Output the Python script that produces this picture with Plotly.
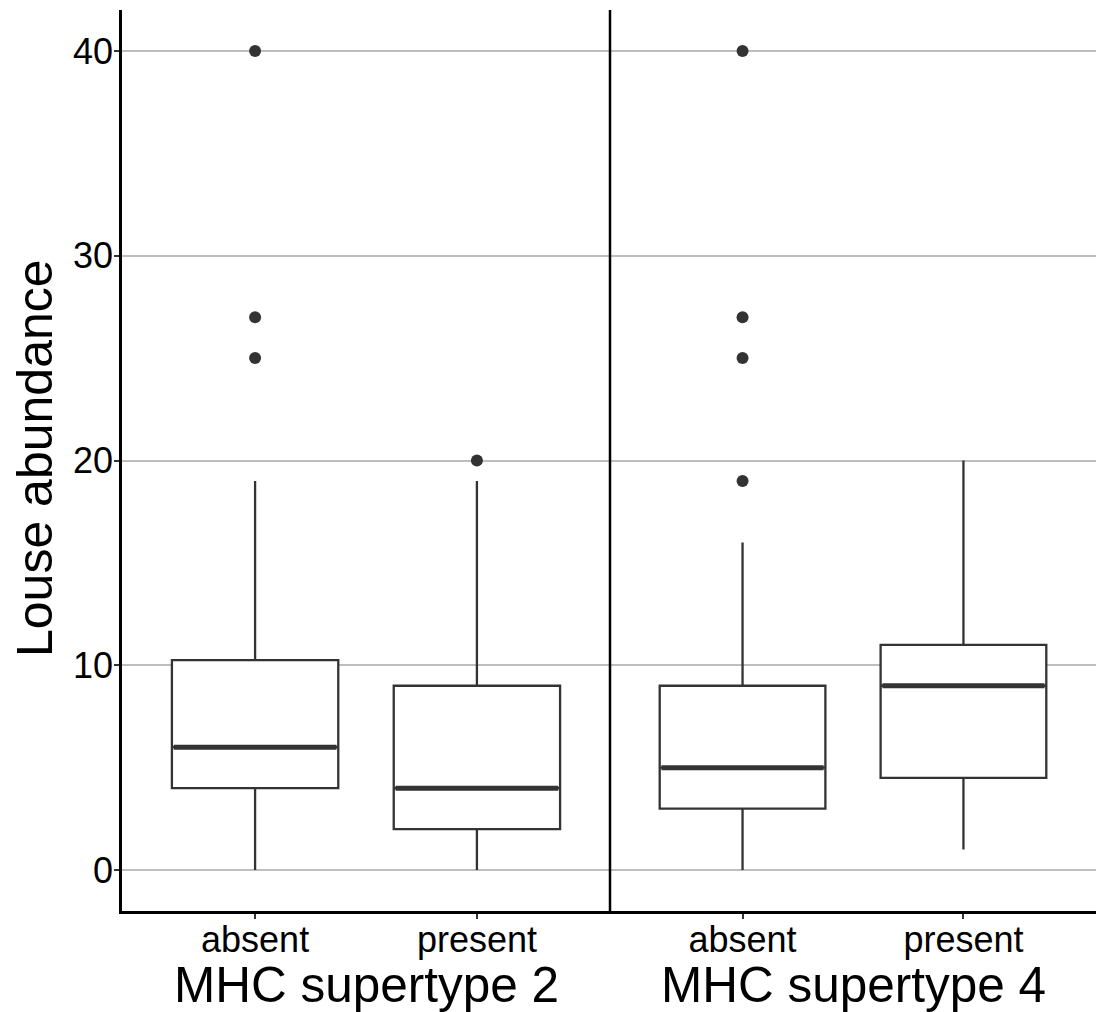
import plotly.graph_objects as go

# ---- data ----
categories = ["absent", "present"]
panels = ["MHC supertype 2", "MHC supertype 4"]
y_title = "Louse abundance"

# per panel: [absent, present]
lower_whisker = {"MHC supertype 2": [0, 0], "MHC supertype 4": [0, 1]}
q1_vals = {"MHC supertype 2": [4, 2], "MHC supertype 4": [3, 4.5]}
median_vals = {"MHC supertype 2": [6, 4], "MHC supertype 4": [5, 9]}
q3_vals = {"MHC supertype 2": [10.25, 9], "MHC supertype 4": [9, 11]}
upper_whisker = {"MHC supertype 2": [19, 19], "MHC supertype 4": [16, 20]}
outliers = {
    "MHC supertype 2": [[25, 27, 40], [20]],
    "MHC supertype 4": [[19, 25, 27, 40], []],
}
y_ticks = [0, 10, 20, 30, 40]

DARK = "#333333"
BOX_W = 0.75
FONT = "Liberation Sans, Arial, sans-serif"

fig = go.Figure()
axes = [("x", "y"), ("x2", "y")]
for (xa, ya), panel in zip(axes, panels):
    for i, cat in enumerate(categories):
        xpos = i + 1
        fig.add_trace(go.Box(
            x=[xpos], q1=[q1_vals[panel][i]], median=[median_vals[panel][i]],
            q3=[q3_vals[panel][i]], lowerfence=[lower_whisker[panel][i]],
            upperfence=[upper_whisker[panel][i]],
            width=BOX_W, whiskerwidth=0, boxpoints=False,
            fillcolor="white", line=dict(color=DARK, width=2.3),
            xaxis=xa, yaxis=ya, showlegend=False, hoverinfo="skip",
        ))
        # thick median line
        fig.add_trace(go.Scatter(
            x=[xpos - BOX_W / 2 + 0.008, xpos + BOX_W / 2 - 0.008],
            y=[median_vals[panel][i]] * 2,
            mode="lines", line=dict(color=DARK, width=5),
            xaxis=xa, yaxis=ya, showlegend=False, hoverinfo="skip",
        ))
        if outliers[panel][i]:
            fig.add_trace(go.Scatter(
                x=[xpos] * len(outliers[panel][i]), y=outliers[panel][i],
                mode="markers", marker=dict(color=DARK, size=12),
                xaxis=xa, yaxis=ya, showlegend=False, hoverinfo="skip",
            ))

W, H = 1096, 1012
L, R, T, B = 122, 0, 10, 101
PW, PH = W - L - R, H - T - B
split = 488 / PW

def px_to_paper_x(px):
    return (px - L) / PW

def px_to_paper_y(py):
    return (H - B - py) / PH

xcommon = dict(
    range=[0.4, 2.6], tickvals=[1, 2], ticktext=categories,
    showgrid=False, zeroline=False, showline=True, linecolor="black", linewidth=2.5,
    ticks="outside", ticklen=5, tickwidth=2, tickcolor="#333333",
    tickfont=dict(size=36, color="black", family=FONT),
    ticklabelstandoff=-10,
)

fig.update_layout(
    width=W, height=H,
    margin=dict(l=L, r=R, t=T, b=B),
    paper_bgcolor="white", plot_bgcolor="white",
    xaxis=dict(domain=[0, split], anchor="y", **xcommon),
    xaxis2=dict(domain=[split, 1], anchor="y", **xcommon),
    yaxis=dict(
        range=[-2, 42], tickvals=y_ticks, anchor="x",
        showgrid=True, gridcolor="#bebebe", gridwidth=2,
        zeroline=False, showline=True, linecolor="black", linewidth=2.5,
        ticks="outside", ticklen=5, tickwidth=2, tickcolor="#333333",
        tickfont=dict(size=36, color="black", family=FONT),
        ticklabelstandoff=-6,
    ),
    boxgap=0, boxgroupgap=0,
)

# divider line between panels (the y axis line of the second panel)
fig.add_shape(type="line", xref="paper", yref="paper", x0=split, x1=split, y0=0, y1=1,
              line=dict(color="black", width=2.5))

# panel labels (below the x axes) and y-axis title
for k, panel in enumerate(panels):
    cx = (0 + split) / 2 if k == 0 else (split + 1) / 2
    fig.add_annotation(text=panel, xref="paper", yref="paper", x=cx, y=px_to_paper_y(984),
                       xanchor="center", yanchor="middle", showarrow=False,
                       font=dict(size=49.5, color="black", family=FONT))
fig.add_annotation(text=y_title, xref="paper", yref="paper", x=px_to_paper_x(35),
                   y=px_to_paper_y(458), xanchor="center", yanchor="middle",
                   textangle=-90, showarrow=False,
                   font=dict(size=50, color="black", family=FONT))

fig.write_html(
    "out.html",
    config={"displayModeBar": False},
    post_script="document.body.style.margin='0';document.body.style.overflow='hidden';",
)
